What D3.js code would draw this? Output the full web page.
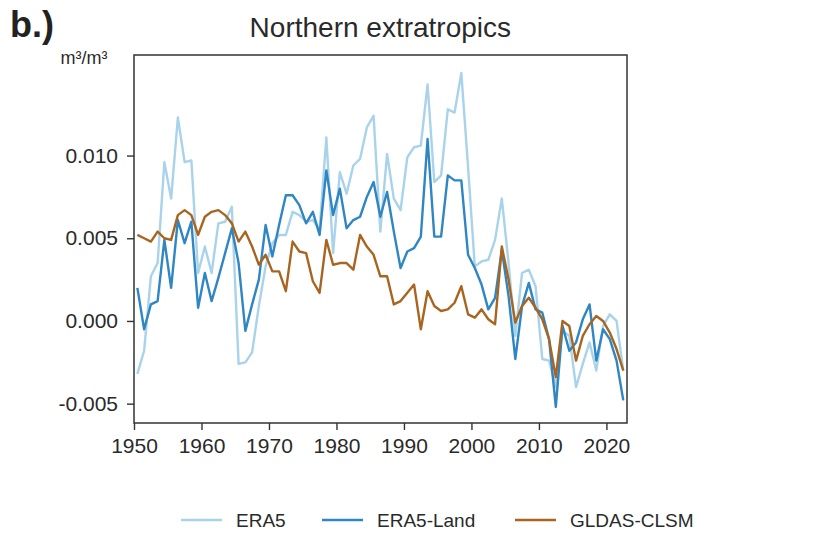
<!DOCTYPE html>
<html>
<head>
<meta charset="utf-8">
<script src="https://cdn.jsdelivr.net/npm/d3@7"></script>
<style>
  body { margin: 0; background: #fff; }
  svg { font-family: "Liberation Sans", Arial, sans-serif; }
</style>
</head>
<body>
<div id="chart"></div>
<script>
// annual anomalies, 1950..2022 (m3/m3)
const years = d3.range(1950, 2023)

const era5 = [
  -0.0032, -0.0018, 0.0027, 0.0035, 0.0096, 0.0074, 0.0123, 0.0096, 0.0097, 0.0029,
  0.0045, 0.0029, 0.0059, 0.0060, 0.0069, -0.0026, -0.0025, -0.0019, 0.0009, 0.0033,
  0.0047, 0.0052, 0.0052, 0.0066, 0.0064, 0.0060, 0.0061, 0.0055, 0.0111, 0.0041,
  0.0090, 0.0077, 0.0094, 0.0098, 0.0117, 0.0124, 0.0054, 0.0101, 0.0074, 0.0067,
  0.0099, 0.0105, 0.0106, 0.0143, 0.0084, 0.0088, 0.0128, 0.0126, 0.0150, 0.0093,
  0.0033, 0.0036, 0.0037, 0.0049, 0.0074, 0.0035, -0.0009, 0.0029, 0.0031, 0.0021,
  -0.0023, -0.0024, -0.0040, -0.0006, -0.0009, -0.0040, -0.0026, -0.0013, -0.0030, -0.0003,
  0.0004, 0.0000, -0.0030,
]

const era5Land = [
  0.0020, -0.0005, 0.0010, 0.0012, 0.0049, 0.0020, 0.0061, 0.0047, 0.0060, 0.0008,
  0.0029, 0.0012, 0.0026, 0.0041, 0.0056, 0.0035, -0.0006, 0.0010, 0.0025, 0.0058,
  0.0039, 0.0058, 0.0076, 0.0076, 0.0070, 0.0059, 0.0066, 0.0052, 0.0091, 0.0064,
  0.0080, 0.0056, 0.0061, 0.0063, 0.0075, 0.0084, 0.0063, 0.0078, 0.0054, 0.0032,
  0.0042, 0.0044, 0.0051, 0.0110, 0.0051, 0.0051, 0.0088, 0.0085, 0.0085, 0.0040,
  0.0032, 0.0022, 0.0007, 0.0014, 0.0043, 0.0015, -0.0023, 0.0009, 0.0023, 0.0007,
  0.0005, -0.0011, -0.0052, -0.0003, -0.0018, -0.0013, 0.0001, 0.0010, -0.0024, -0.0005,
  -0.0011, -0.0024, -0.0048,
]

const gldas = [
  0.0052, 0.0050, 0.0048, 0.0054, 0.0050, 0.0049, 0.0064, 0.0067, 0.0064, 0.0052,
  0.0063, 0.0066, 0.0067, 0.0064, 0.0059, 0.0048, 0.0054, 0.0045, 0.0034, 0.0040,
  0.0030, 0.0030, 0.0018, 0.0048, 0.0042, 0.0041, 0.0024, 0.0017, 0.0049, 0.0034,
  0.0035, 0.0035, 0.0031, 0.0052, 0.0045, 0.0040, 0.0027, 0.0027, 0.0010, 0.0012,
  0.0017, 0.0022, -0.0005, 0.0018, 0.0009, 0.0006, 0.0007, 0.0011, 0.0021, 0.0004,
  0.0002, 0.0007, 0.0001, -0.0002, 0.0045, 0.0025, -0.0001, 0.0009, 0.0014, 0.0008,
  0.0001, -0.0011, -0.0034, 0.0000, -0.0003, -0.0024, -0.0009, -0.0002, 0.0003, 0.0000,
  -0.0007, -0.0017, -0.0030,
]

const seriesNames = ['ERA5', 'ERA5-Land', 'GLDAS-CLSM']
const seriesValues = [era5, era5Land, gldas]
const seriesColors = ['#a9d3ea', '#2f86c3', '#a8651f']

const xTicks = [1950, 1960, 1970, 1980, 1990, 2000, 2010, 2020]
const yTicks = [-0.005, 0, 0.005, 0.010]

const width = 822
const height = 533
const margin = { top: 55, right: 195, bottom: 110, left: 134 }
const innerW = width - margin.left - margin.right
const innerH = height - margin.top - margin.bottom

const svg = d3.select('#chart').append('svg')
  .attr('width', width)
  .attr('height', height)

const x = d3.scaleLinear().domain([1950, 2023.05]).range([margin.left, margin.left + innerW])
const y = d3.scaleLinear().domain([-0.00617, 0.01608]).range([margin.top + innerH, margin.top])

// panel letter + title + unit
svg.append('text')
  .attr('x', 10).attr('y', 37)
  .attr('font-size', 36).attr('font-weight', 'bold')
  .attr('fill', '#222')
  .text('b.)')

svg.append('text')
  .attr('x', x(1986.5)).attr('y', 37)
  .attr('text-anchor', 'middle')
  .attr('font-size', 28)
  .attr('fill', '#2a2a2a')
  .text('Northern extratropics')

svg.append('text')
  .attr('x', 84).attr('y', 64)
  .attr('text-anchor', 'middle')
  .attr('font-size', 18)
  .attr('fill', '#2a2a2a')
  .text('m³/m³')

// lines (mid-year positions)
const line = d3.line()
  .x((d, i) => x(years[i] + 0.5))
  .y(d => y(d))

const content = svg.append('g').attr('id', 'content')
seriesValues.forEach((vals, k) => {
  content.append('path')
    .datum(vals)
    .attr('fill', 'none')
    .attr('stroke', seriesColors[k])
    .attr('stroke-width', 2.4)
    .attr('stroke-linejoin', 'round')
    .attr('d', line)
})

// axes
const xaxis = svg.append('g')
  .attr('transform', `translate(0,${margin.top + innerH})`)
  .call(d3.axisBottom(x).tickValues(xTicks).tickFormat(d3.format('d')).tickSize(7).tickPadding(8))

const yaxis = svg.append('g')
  .attr('transform', `translate(${margin.left},0)`)
  .call(d3.axisLeft(y).tickValues(yTicks).tickFormat(d => d3.format('.3f')(d).replace('−', '-')).tickSize(7).tickPadding(9))

;[xaxis, yaxis].forEach(ax => {
  ax.select('.domain').remove()
  ax.selectAll('.tick line').attr('stroke', '#333').attr('stroke-width', 1.4)
  ax.selectAll('.tick text').attr('font-size', 21).attr('fill', '#2a2a2a')
    .attr('font-family', '"Liberation Sans", Arial, sans-serif')
})

// frame
svg.append('rect')
  .attr('x', margin.left).attr('y', margin.top)
  .attr('width', innerW).attr('height', innerH)
  .attr('fill', 'none')
  .attr('stroke', '#333')
  .attr('stroke-width', 1.5)

// legend
const legendX = [181, 322, 515]
const legend = svg.append('g').attr('id', 'legend')
seriesNames.forEach((name, k) => {
  const g = legend.append('g').attr('transform', `translate(${legendX[k]},520)`)
  g.append('line')
    .attr('x1', 0).attr('x2', 41)
    .attr('y1', 0).attr('y2', 0)
    .attr('stroke', seriesColors[k])
    .attr('stroke-width', 2.4)
  g.append('text')
    .attr('x', 55).attr('y', 7)
    .attr('font-size', 19)
    .attr('fill', '#2a2a2a')
    .text(name)
})
</script>
</body>
</html>
